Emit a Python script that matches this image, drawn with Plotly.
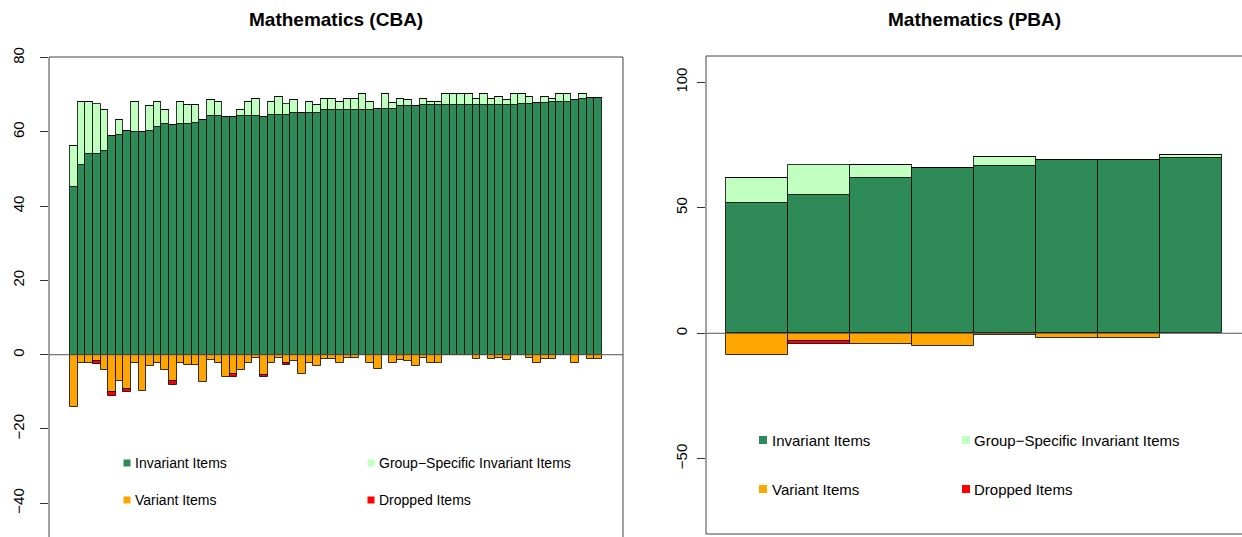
import plotly.graph_objects as go

# ---- Mathematics (CBA): 70 groups ----
cba_invariant = [45.1, 51.0, 54.1, 54.1, 55.0, 59.0, 59.2, 60.2, 60.0, 60.0,
                 60.4, 61.3, 62.2, 61.9, 62.2, 62.2, 62.4, 63.2, 64.2, 64.2,
                 64.0, 64.0, 64.2, 64.2, 64.2, 64.0, 64.5, 64.7, 64.7, 65.1,
                 65.1, 65.1, 65.1, 66.0, 66.0, 66.0, 66.0, 66.0, 66.0, 66.0,
                 66.2, 66.2, 66.2, 66.9, 66.9, 67.0, 67.2, 67.2, 67.2, 67.2,
                 67.2, 67.2, 67.2, 67.2, 67.2, 67.2, 67.2, 67.2, 67.2, 67.6,
                 67.6, 67.8, 67.8, 68.1, 68.1, 68.1, 68.5, 69.0, 69.1, 69.1]
cba_group_specific = [11.1, 17.1, 14.0, 13.5, 11.0, 0.0, 3.9, 0.0, 8.1, 0.0,
                      6.5, 6.8, 3.6, 0.0, 5.9, 5.0, 4.8, 0.0, 4.5, 3.9,
                      0.0, 0.0, 1.8, 3.9, 4.8, 0.0, 3.6, 4.7, 2.9, 3.4,
                      0.0, 3.0, 2.1, 3.0, 3.0, 2.1, 3.0, 3.0, 4.3, 2.1,
                      0.0, 4.1, 1.6, 2.1, 1.6, 0.0, 1.8, 0.9, 0.9, 3.1,
                      3.1, 3.1, 3.1, 1.8, 3.1, 1.8, 2.2, 1.5, 3.1, 2.7,
                      1.8, 0.0, 1.6, 0.9, 2.2, 2.2, 0.0, 1.3, 0.0, 0.0]
cba_variant = [-14.1, -2.1, -2.1, -1.8, -4.2, -10.1, -7.2, -9.2, -2.1, -9.9,
               -3.1, -2.1, -4.2, -7.2, -2.1, -2.9, -2.9, -7.3, -1.4, -2.1,
               -5.9, -5.2, -4.2, -2.1, -1.0, -5.4, -2.1, -0.8, -2.3, -1.8,
               -5.1, -2.1, -3.0, -1.2, -1.2, -2.1, -0.9, -0.9, 0.0, -2.1,
               -3.9, 0.0, -2.3, -1.3, -1.6, -3.0, -0.9, -2.1, -2.1, 0.0,
               0.0, 0.0, 0.0, -1.2, 0.0, -1.2, -1.0, -1.4, 0.0, 0.0,
               -1.0, -2.3, -1.1, -1.2, 0.0, 0.0, -2.2, 0.0, -1.2, -1.2]
cba_dropped = [0.0, 0.0, 0.0, -0.8, 0.0, -1.1, 0.0, -0.9, 0.0, 0.0,
               0.0, 0.0, 0.0, -0.9, 0.0, 0.0, 0.0, 0.0, 0.0, 0.0,
               0.0, -0.9, 0.0, 0.0, 0.0, -0.7, 0.0, 0.0, -0.6, 0.0,
               0.0, 0.0, 0.0, 0.0, 0.0, 0.0, 0.0, 0.0, 0.0, 0.0,
               0.0, 0.0, 0.0, 0.0, 0.0, 0.0, 0.0, 0.0, 0.0, 0.0,
               0.0, 0.0, 0.0, 0.0, 0.0, 0.0, 0.0, 0.0, 0.0, 0.0,
               0.0, 0.0, 0.0, 0.0, 0.0, 0.0, 0.0, 0.0, 0.0, 0.0]

# ---- Mathematics (PBA): 8 groups ----
pba_invariant = [51.8, 55.3, 61.9, 66.0, 66.7, 69.1, 69.1, 70.0]
pba_group_specific = [10.1, 11.8, 5.2, 0.0, 3.5, 0.0, 0.0, 0.9]
pba_variant = [-8.8, -3.0, -4.2, -5.0, -0.7, -1.8, -1.8, 0.0]
pba_dropped = [0.0, -1.2, 0.0, 0.0, 0.0, 0.0, 0.0, 0.0]

titles = ["Mathematics (CBA)", "Mathematics (PBA)"]
series_names = ["Invariant Items", "Group\u2212Specific Invariant Items",
                "Variant Items", "Dropped Items"]
series_colors = ["#2E8B57", "#C1FFC1", "#FFA500", "#FF0000"]

cba_ticks = [-40, -20, 0, 20, 40, 60, 80]
pba_ticks = [-50, 0, 50, 100]

W, H = 1242, 537
FONT = "Liberation Sans, Arial, sans-serif"
EDGE = "rgba(0,0,0,0.78)"

fig = go.Figure()


def add_panel(values, xa, ya):
    n = len(values[0])
    xs = list(range(1, n + 1))
    for name, vals, col in zip(series_names, values, series_colors):
        fig.add_trace(go.Bar(
            x=xs, y=vals, name=name, xaxis=xa, yaxis=ya, width=1.0,
            marker=dict(color=col, line=dict(color=EDGE, width=1)),
            showlegend=False, hoverinfo="y"))


add_panel([cba_invariant, cba_group_specific, cba_variant, cba_dropped], "x", "y")
add_panel([pba_invariant, pba_group_specific, pba_variant, pba_dropped], "x2", "y2")

# panel geometry in pixels
L_left, L_right, L_top = 49, 623, 57
R_left, R_right, R_top, R_bottom = 706, 1242, 56, 534

n_cba = len(cba_invariant)
n_pba = len(pba_invariant)
pad_cba = 0.04 * n_cba
pad_pba = 0.04 * n_pba

axis_common = dict(showgrid=False, zeroline=False, showline=False, automargin=False)
tick_font = dict(family=FONT, size=15, color="#000")


def minus(v):
    return str(v).replace("-", "\u2212")


fig.update_layout(
    width=W, height=H,
    margin=dict(l=0, r=0, t=0, b=0, pad=0, autoexpand=False),
    paper_bgcolor="white", plot_bgcolor="white",
    barmode="relative", bargap=0,
    xaxis=dict(domain=[L_left / W, L_right / W],
               range=[0.5 - pad_cba, n_cba + 0.5 + pad_cba],
               showticklabels=False, ticks="", **axis_common),
    yaxis=dict(domain=[0, 1 - L_top / H], range=[-49.1, 80.2],
               tickvals=cba_ticks, ticktext=[minus(t) for t in cba_ticks],
               ticks="outside", ticklen=8, tickcolor="#333", tickwidth=1,
               tickangle=-90, tickfont=tick_font, ticklabelstandoff=10,
               **axis_common),
    xaxis2=dict(domain=[R_left / W, R_right / W],
                range=[0.5 - pad_pba, n_pba + 0.5 + pad_pba],
                showticklabels=False, ticks="", anchor="y2", **axis_common),
    yaxis2=dict(domain=[(H - R_bottom) / H, 1 - R_top / H], range=[-80, 110.5],
                tickvals=pba_ticks, ticktext=[minus(t) for t in pba_ticks],
                ticks="outside", ticklen=8, tickcolor="#333", tickwidth=1,
                tickangle=-90, tickfont=tick_font, ticklabelstandoff=4,
                anchor="x2", **axis_common),
)

shapes = []
box_line = dict(color="#444", width=1)
# CBA frame (bottom edge lies below the visible area)
for x0, y0, x1, y1 in [(0, 1, 1, 1), (0, 0, 0, 1), (1, 0, 1, 1)]:
    shapes.append(dict(type="line", xref="x domain", yref="y domain",
                       x0=x0, y0=y0, x1=x1, y1=y1, line=box_line, layer="above"))
# PBA frame (right edge lies at the page border)
for x0, y0, x1, y1 in [(0, 1, 1, 1), (0, 0, 0, 1), (0, 0, 1, 0)]:
    shapes.append(dict(type="line", xref="x2 domain", yref="y2 domain",
                       x0=x0, y0=y0, x1=x1, y1=y1, line=box_line, layer="above"))
# horizontal reference line at zero
for xr, yr in [("x domain", "y"), ("x2 domain", "y2")]:
    shapes.append(dict(type="line", xref=xr, yref=yr, x0=0, x1=1, y0=0, y1=0,
                       line=dict(color="#555", width=1), layer="above"))

annotations = []
# panel titles
for title, (a, b) in zip(titles, [(L_left, L_right), (R_left, R_right)]):
    annotations.append(dict(text="<b>%s</b>" % title, xref="paper", yref="paper",
                            x=(a + b) / 2 / W, y=1 - 20 / H, xanchor="center",
                            yanchor="middle", showarrow=False,
                            font=dict(family=FONT, size=19, color="#000")))

# in-plot legends: (square center x, text x) per column, y per row
legend_specs = [
    dict(cols=[(127, 133), (371, 377)], rows=[463, 500], sq=7, size=14),
    dict(cols=[(763, 770), (966, 972)], rows=[440, 489], sq=8, size=15),
]
for spec in legend_specs:
    for k, (name, col) in enumerate(zip(series_names, series_colors)):
        cx, tx = spec["cols"][k % 2]
        cy = spec["rows"][k // 2]
        h = spec["sq"] / 2
        shapes.append(dict(type="rect", xref="paper", yref="paper",
                           x0=(cx - h) / W, x1=(cx + h) / W,
                           y0=1 - (cy + h) / H, y1=1 - (cy - h) / H,
                           fillcolor=col, line=dict(width=0), layer="above"))
        annotations.append(dict(text=name, xref="paper", yref="paper",
                                x=tx / W, y=1 - cy / H, xanchor="left",
                                yanchor="middle", showarrow=False,
                                font=dict(family=FONT, size=spec["size"], color="#000")))

fig.update_layout(shapes=shapes, annotations=annotations)

fig.write_html("out.html")
